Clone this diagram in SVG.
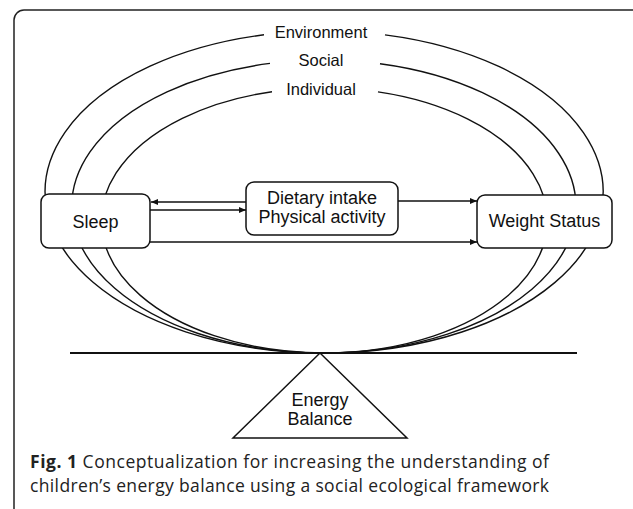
<svg xmlns="http://www.w3.org/2000/svg" width="633" height="509" viewBox="0 0 633 509">
<style>
.frame{fill:none;stroke:#222;stroke-width:1.5}
.ring{fill:none;stroke:#111;stroke-width:1.4}
.box{fill:#fff;stroke:#111;stroke-width:1.5}
.lbl{font-family:"Liberation Sans",Arial,sans-serif;font-size:18px;fill:#111;text-anchor:middle}
.lvl{font-family:"Liberation Sans",Arial,sans-serif;font-size:16.5px;fill:#111;text-anchor:middle}
.cap{font-family:"Open Sans","Noto Sans",sans-serif;font-size:17.5px;fill:#222}
.arr{fill:none;stroke:#111;stroke-width:1.6;marker-end:url(#ah)}
</style>
<defs>
<marker id="ah" markerUnits="userSpaceOnUse" markerWidth="8" markerHeight="7" refX="7" refY="3" orient="auto">
<path d="M0,0 L7,3 L0,6 z" fill="#111"/>
</marker>
</defs>
<rect class="frame" x="14" y="10" width="628" height="510" rx="10"/>
<g id="levels">
<path class="ring" d="M 264 34.8 A 279 161 0 1 0 385 34.9"/>
<path class="ring" d="M 270 63.4 A 252 146.5 0 1 0 380 63.7"/>
<path class="ring" d="M 272 91.7 A 223 132.5 0 1 0 378 91.9"/>
<text class="lvl" x="321" y="38">Environment</text>
<text class="lvl" x="321" y="66">Social</text>
<text class="lvl" x="321" y="95">Individual</text>
</g>
<g id="balance">
<line x1="70" y1="353" x2="577" y2="353" stroke="#111" stroke-width="2"/>
<polygon points="320,353 233,438 407,438" fill="#fff" stroke="#111" stroke-width="1.5"/>
<text class="lbl" x="320" y="406">Energy</text>
<text class="lbl" x="320" y="425">Balance</text>
</g>
<g id="sleep">
<rect class="box" x="41" y="194" width="109" height="54" rx="8"/>
<text class="lbl" x="95.5" y="228">Sleep</text>
</g>
<g id="diet">
<rect class="box" x="246" y="182" width="152" height="53" rx="8"/>
<text class="lbl" x="322" y="204">Dietary intake</text>
<text class="lbl" x="322" y="223">Physical activity</text>
</g>
<g id="weight">
<rect class="box" x="477" y="195" width="135" height="53" rx="8"/>
<text class="lbl" x="544.5" y="227">Weight Status</text>
</g>
<g id="connectors">
<line class="arr" x1="246" y1="202" x2="151" y2="202"/>
<line class="arr" x1="150" y1="210" x2="246" y2="210"/>
<line class="arr" x1="398" y1="201" x2="477" y2="201"/>
<line class="arr" x1="150" y1="242" x2="477" y2="242"/>
</g>
<g id="caption">
<text class="cap" x="30" y="468" textLength="519" lengthAdjust="spacing"><tspan font-weight="bold">Fig. 1</tspan> Conceptualization for increasing the understanding of</text>
<text class="cap" x="30" y="492" textLength="519" lengthAdjust="spacing">children’s energy balance using a social ecological framework</text>
</g>
</svg>
